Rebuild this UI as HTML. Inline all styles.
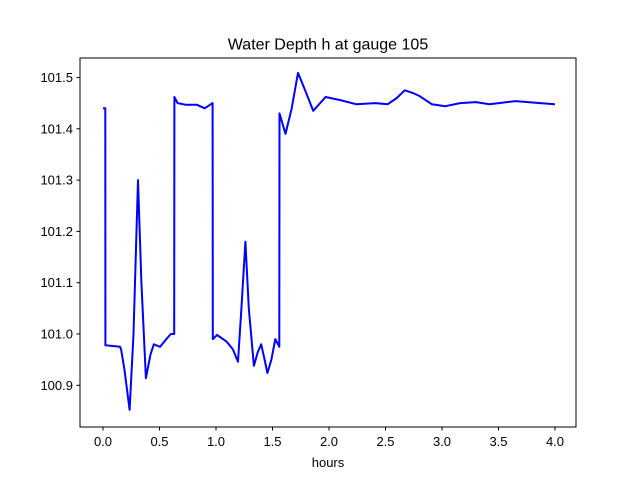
<!DOCTYPE html>
<html><head><meta charset="utf-8"><style>
body{margin:0;background:#fff;}
svg{display:block;font-family:"Liberation Sans","DejaVu Sans",sans-serif;}
</style></head><body>
<svg id="chart" width="640" height="480" viewBox="0 0 640 480" xmlns="http://www.w3.org/2000/svg">
<rect width="640" height="480" fill="#fff"/>
<text x="328" y="49.5" text-anchor="middle" font-size="16">Water Depth h at gauge 105</text>
<g id="ticks"></g>
<polyline id="series" fill="none" stroke="#0000ff" stroke-width="2" stroke-linejoin="round"/>
<rect x="80" y="58" width="496" height="369" fill="none" stroke="#000" stroke-width="1"/>
<text x="328" y="467" text-anchor="middle" font-size="13">hours</text>
</svg>
<script>
const hours = [0,0.02,0.021,0.15,0.16,0.19,0.235,0.27,0.31,0.34,0.38,0.42,0.45,0.505,0.56,0.6,0.63,0.632,0.66,0.73,0.83,0.9,0.97,0.972,1.01,1.095,1.15,1.195,1.225,1.26,1.29,1.335,1.37,1.4,1.43,1.455,1.49,1.525,1.56,1.562,1.615,1.67,1.726,1.78,1.86,1.97,2.1,2.24,2.41,2.52,2.6,2.67,2.74,2.8,2.91,3.03,3.16,3.3,3.42,3.65,3.87,4.0];
const depth = [101.44,101.44,100.978,100.975,100.97,100.93,100.852,101.0,101.30,101.1,100.914,100.96,100.98,100.975,100.99,101.0,101.0,101.462,101.45,101.447,101.447,101.44,101.45,100.99,100.998,100.985,100.97,100.946,101.05,101.18,101.05,100.938,100.965,100.98,100.95,100.924,100.95,100.99,100.975,101.43,101.39,101.44,101.509,101.48,101.435,101.462,101.456,101.448,101.45,101.448,101.46,101.475,101.47,101.464,101.448,101.444,101.45,101.452,101.448,101.454,101.45,101.448];
const xTicks = [0,0.5,1,1.5,2,2.5,3,3.5,4];
const xTickLabels = ["0.0","0.5","1.0","1.5","2.0","2.5","3.0","3.5","4.0"];
const yTicks = [100.9,101.0,101.1,101.2,101.3,101.4,101.5];
const yTickLabels = ["100.9","101.0","101.1","101.2","101.3","101.4","101.5"];
const X = h => 103 + h*113;
const Y = d => 334 - (d-101.0)*513;
const NS="http://www.w3.org/2000/svg";
const g=document.getElementById('ticks');
xTicks.forEach((t,i)=>{
  const l=document.createElementNS(NS,'line');
  
  
  l.setAttribute('x1',X(t));l.setAttribute('x2',X(t));l.setAttribute('y1',427);l.setAttribute('y2',430.5);l.setAttribute('stroke','#000');
  g.appendChild(l);
  const tx=document.createElementNS(NS,'text');
  
  
  tx.setAttribute('x',X(t));tx.setAttribute('y',446);tx.setAttribute('text-anchor','middle');tx.setAttribute('font-size','13');
  tx.textContent=xTickLabels[i];g.appendChild(tx);
});
yTicks.forEach((t,i)=>{
  const l=document.createElementNS(NS,'line');
  
  
  l.setAttribute('x1',76.5);l.setAttribute('x2',80);l.setAttribute('y1',Y(t));l.setAttribute('y2',Y(t));l.setAttribute('stroke','#000');
  g.appendChild(l);
  const tx=document.createElementNS(NS,'text');
  
  
  tx.setAttribute('x',73);tx.setAttribute('y',Y(t)+4.5);tx.setAttribute('text-anchor','end');tx.setAttribute('font-size','13');
  tx.textContent=yTickLabels[i];g.appendChild(tx);
});
document.getElementById('series').setAttribute('points',hours.map((h,i)=>X(h).toFixed(1)+','+Y(depth[i]).toFixed(1)).join(' '));
</script>
</body></html>
